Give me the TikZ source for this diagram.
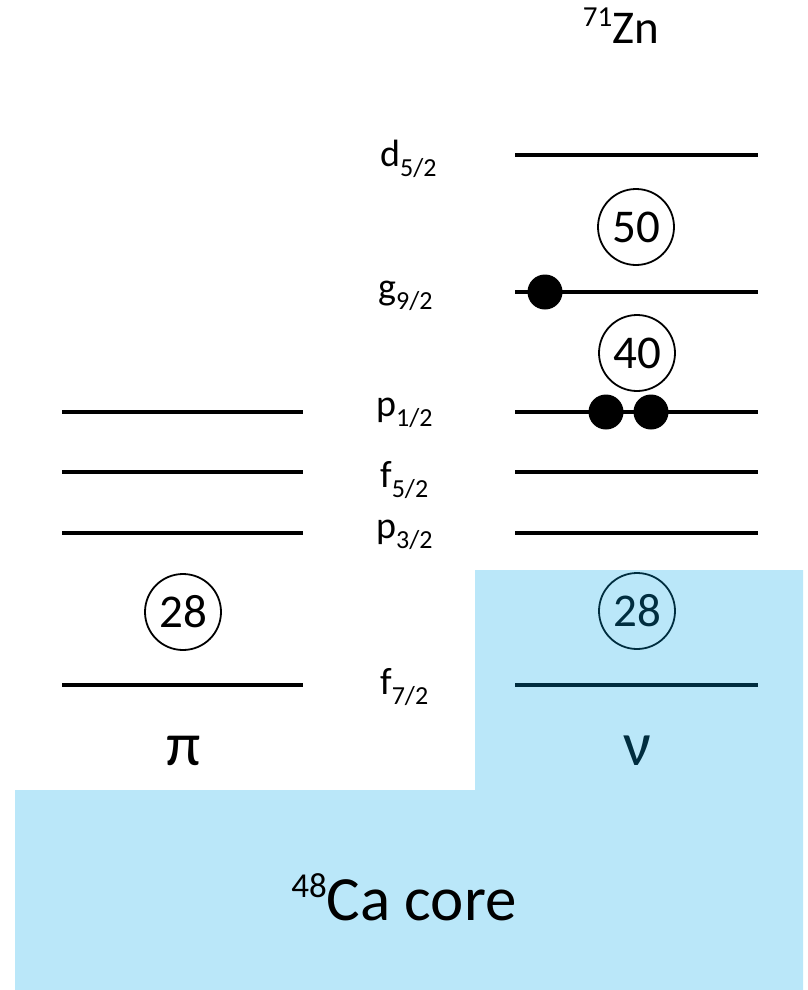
\documentclass[tikz,border=0pt]{standalone}
\usepackage{fontspec}
\setmainfont{Carlito}
\definecolor{coretint}{RGB}{0,167,233}
% orbital label: letter with a lowered j-subscript
\newcommand\shelllab[2]{#1\raisebox{-10pt}{\fontsize{26}{26}\selectfont #2}}
\begin{document}
\begin{tikzpicture}[x=1pt,y=-1pt,
  level/.style={line width=3.6pt},
  magic/.style={circle,draw,line width=1.8pt,minimum size=76pt,inner sep=0pt,
    font=\fontsize{47}{47}\selectfont},
  electron/.style={circle,fill=black,minimum size=35pt,inner sep=0pt},
  orbital/.style={anchor=base west,inner sep=0pt,font=\fontsize{38}{38}\selectfont},
  species/.style={anchor=base,inner sep=0pt,font=\fontsize{62}{62}\selectfont},
  core/.style={fill=coretint,fill opacity=0.27,draw=none}]
\useasboundingbox (0,0) rectangle (808,990);

% level end points: proton column (p) and neutron column (n)
\foreach \name/\y in {p12/412,f52/472,p32/533,f72/685}{
  \coordinate (pL\name) at (62,\y);
  \coordinate (pR\name) at (303,\y);
  \draw[level] (pL\name) -- (pR\name);
}
\foreach \name/\y in {d52/155,g92/292,p12/412,f52/472,p32/533,f72/685}{
  \coordinate (nL\name) at (515,\y);
  \coordinate (nR\name) at (758,\y);
  \draw[level] (nL\name) -- (nR\name);
}

% shell closures
\node[magic] (m50)  at (636,227) {50};
\node[magic] (m40)  at (637,353) {40};
\node[magic] (m28p) at (183,612) {28};
\node[magic] (m28n) at (637,611) {28};

% valence neutrons
\node[electron] (e1) at (545,292) {};
\node[electron] (e2) at (606,412) {};
\node[electron] (e3) at (651,412) {};

% orbital names
\node[orbital] (ld52) at (380,166) {\shelllab{d}{5/2}};
\node[orbital] (lg92) at (378,299) {\shelllab{g}{9/2}};
\node[orbital] (lp12) at (376,416) {\shelllab{p}{1/2}};
\node[orbital] (lf52) at (380,487) {\shelllab{f}{5/2}};
\node[orbital] (lp32) at (376,538) {\shelllab{p}{3/2}};
\node[orbital] (lf72) at (380,694) {\shelllab{f}{7/2}};

% proton / neutron columns
\node[species] (pi) at (184,765) {π};
\node[species] (nu) at (637,765) {ν};

% nucleus label
\node[anchor=base,inner sep=0pt,font=\fontsize{47}{47}\selectfont] (zn) at (621,44)
  {\raisebox{17pt}{\fontsize{29}{29}\selectfont 71}Zn};

% inert core
\path[core] (15,790) -- (475,790) -- (475,570) -- (803,570) -- (803,990) -- (15,990) -- cycle;
\node[anchor=base,inner sep=0pt,font=\fontsize{63}{63}\selectfont] (ca) at (404,920)
  {\raisebox{23pt}{\fontsize{35}{35}\selectfont 48}Ca core};
\end{tikzpicture}
\end{document}
